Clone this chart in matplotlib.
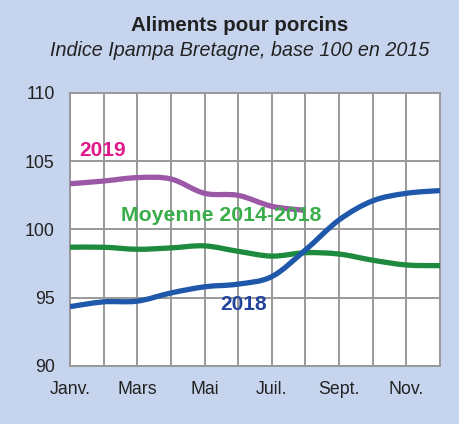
import numpy as np
import matplotlib.pyplot as plt
from matplotlib.path import Path
from matplotlib.patches import PathPatch

plt.rcParams['font.family'] = ['Liberation Sans', 'DejaVu Sans']

months = ["Janv.", "Févr.", "Mars", "Avr.", "Mai", "Juin", "Juil.", "Août", "Sept.", "Oct.", "Nov.", "Déc."]
tick_labels = ["Janv.", "Mars", "Mai", "Juil.", "Sept.", "Nov."]

val_2018 = [94.35, 94.7, 94.75, 95.35, 95.8, 96.0, 96.55, 98.5, 100.7, 102.1, 102.65, 102.85]
val_moy = [98.7, 98.7, 98.55, 98.65, 98.8, 98.4, 98.05, 98.3, 98.2, 97.75, 97.4, 97.35]
val_2019 = [103.35, 103.55, 103.8, 103.7, 102.65, 102.5, 101.7, 101.4]

BG = "#c6d4ed"


def smooth_path(y):
    # courbe lissée (Catmull-Rom -> Bézier) passant par les points mensuels
    x = np.arange(len(y), dtype=float)
    pts = np.column_stack([x, np.asarray(y, dtype=float)])
    verts = [pts[0]]
    codes = [Path.MOVETO]
    for i in range(len(pts) - 1):
        p0 = pts[i - 1] if i > 0 else pts[i]
        p1, p2 = pts[i], pts[i + 1]
        p3 = pts[i + 2] if i + 2 < len(pts) else pts[i + 1]
        c1 = p1 + (p2 - p0) / 6
        c2 = p2 - (p3 - p1) / 6
        verts += [c1, c2, p2]
        codes += [Path.CURVE4] * 3
    return Path(verts, codes)


fig = plt.figure(figsize=(4.59, 4.24), dpi=100, facecolor=BG)
ax = fig.add_axes([0.1525, 0.1368, 0.8061, 0.6439])
ax.set_facecolor("white")

for y, c in [(val_moy, "#1e8a3e"), (val_2018, "#1f58aa"), (val_2019, "#9b58a6")]:
    ax.add_patch(PathPatch(smooth_path(y), facecolor="none", edgecolor=c,
                           lw=3.8, capstyle="butt", zorder=3))

ax.set_xlim(0, len(months) - 1)
ax.set_ylim(90, 110)
ax.set_yticks([90, 95, 100, 105, 110])
ax.set_xticks(range(len(months)))
ax.set_xticklabels([m if m in tick_labels else "" for m in months])
ax.grid(True, color="#999999", lw=1.4)
ax.set_axisbelow(True)
for s in ax.spines.values():
    s.set_color("#999999")
    s.set_linewidth(1.4)
ax.tick_params(length=0, labelsize=12.8, colors="#222222")
ax.tick_params(axis="y", pad=11)
ax.tick_params(axis="x", pad=11)

ax.text(0.98, 105.8, "2019", color="#e0178a", fontsize=15, fontweight="bold",
        ha="center", va="center")
ax.text(4.49, 101.0, "Moyenne 2014-2018", color="#3aae4a", fontsize=15.3,
        fontweight="bold", ha="center", va="center")
ax.text(5.17, 94.5, "2018", color="#22449c", fontsize=15, fontweight="bold",
        ha="center", va="center")

fig.text(0.521, 0.941, "Aliments pour porcins", ha="center", va="center",
         fontsize=14.8, fontweight="bold", color="#222222")
fig.text(0.523, 0.882, "Indice Ipampa Bretagne, base 100 en 2015", ha="center",
         va="center", fontsize=14.2, style="italic", color="#222222")

fig.savefig("out.png", dpi=100, facecolor=BG)
